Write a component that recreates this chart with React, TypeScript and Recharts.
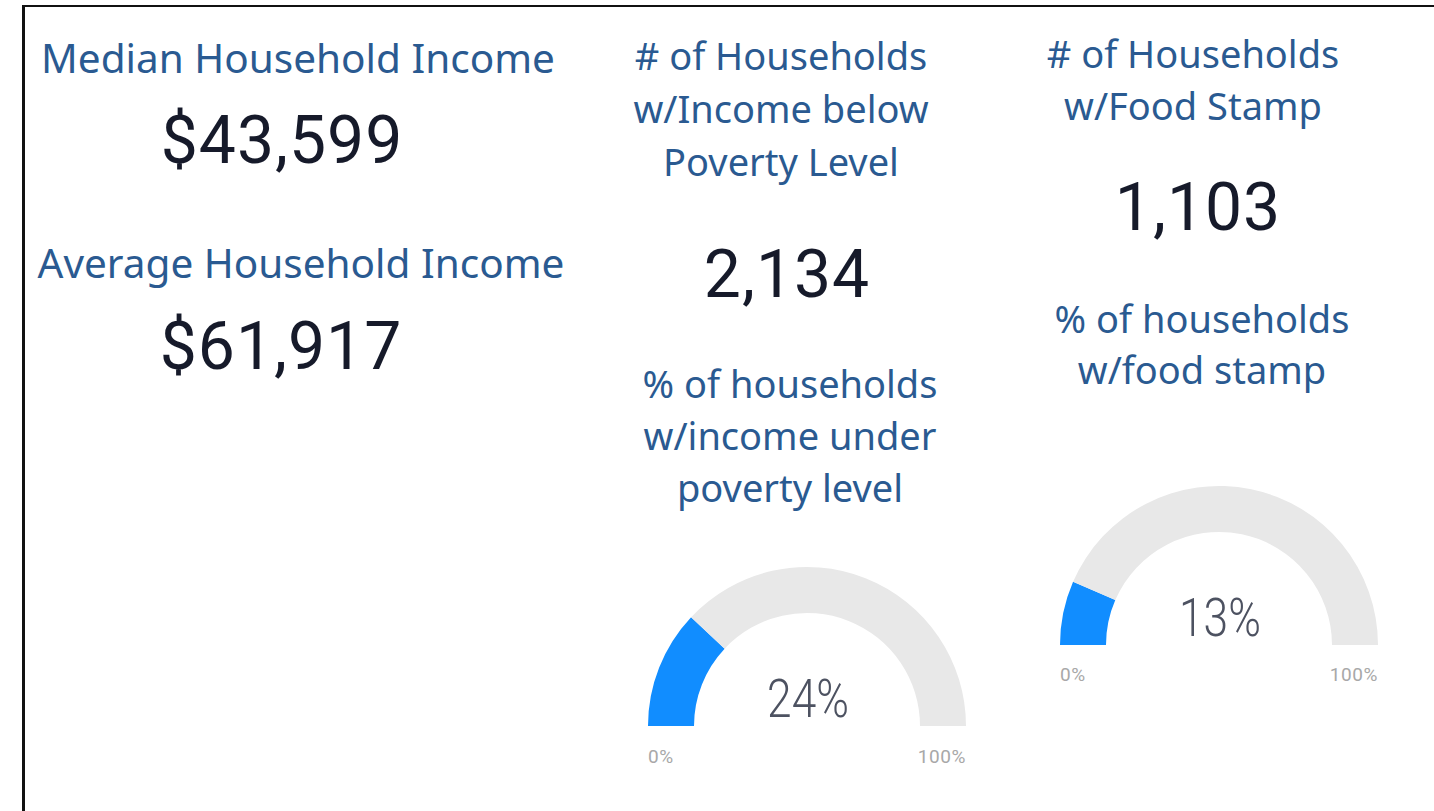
import { Cell, Pie, PieChart } from "recharts";

// card values
const incomeTitles = ["Median Household Income", "Average Household Income"];
const incomeValues = [43599, 61917];

const countTitles = [
  ["# of Households", "w/Income below", "Poverty Level"],
  ["# of Households", "w/Food Stamp"],
];
const countValues = [2134, 1103];

const gaugeTitles = [
  ["% of households", "w/income under", "poverty level"],
  ["% of households", "w/food stamp"],
];
const gaugeValues = [24, 13];
const gaugeMin = 0;
const gaugeMax = 100;

const TITLE = "#2a5a91";
const NUMBER = "#161a2a";
const TITLE_FONT = "'Segoe UI', 'Noto Sans', sans-serif";
const NUM_FONT = "Roboto, 'Noto Sans', sans-serif";

function money(v: number): string {
  return "$" + v.toLocaleString("en-US");
}

type GaugeProps = {
  value: number;
  cx: number; // page coords of the gauge centre
  cy: number;
};

function Gauge({ value, cx, cy }: GaugeProps) {
  const data = [
    { name: "value", v: value - gaugeMin },
    { name: "rest", v: gaugeMax - value },
  ];
  const w = 360;
  const h = 200;
  return (
    <div style={{ position: "absolute", left: cx - w / 2, top: cy - 180 }}>
      <PieChart
        width={w}
        height={h}
        margin={{ top: 0, right: 0, bottom: 0, left: 0 }}
      >
        <Pie
          data={data}
          dataKey="v"
          cx={w / 2}
          cy={180}
          startAngle={180}
          endAngle={0}
          innerRadius={113}
          outerRadius={159}
          stroke="none"
          isAnimationActive={false}
        >
          <Cell fill="#118dff" />
          <Cell fill="#e8e8e8" />
        </Pie>
      </PieChart>
    </div>
  );
}

export default function App() {
  const gauges = [
    { cx: 807, cy: 726, labelY: 763 },
    { cx: 1219, cy: 645, labelY: 681 },
  ];
  return (
    <div
      style={{
        position: "absolute",
        left: 0,
        top: 0,
        width: 1434,
        height: 811,
        overflow: "hidden",
        background: "#fff",
      }}
    >
      <div
        style={{
          position: "absolute",
          left: 22,
          top: 5,
          width: 1500,
          height: 900,
          borderLeft: "3px solid #111",
          borderTop: "2.5px solid #111",
        }}
      />
      {gauges.map((g, i) => (
        <Gauge key={i} value={gaugeValues[i]} cx={g.cx} cy={g.cy} />
      ))}
      <svg
        width={1434}
        height={811}
        style={{ position: "absolute", left: 0, top: 0, pointerEvents: "none" }}
      >
        {/* left column */}
        <g fontFamily={TITLE_FONT} fill={TITLE} fontSize={40.5} textAnchor="middle">
          <text x={298} y={73}>{incomeTitles[0]}</text>
          <text x={301} y={278}>{incomeTitles[1]}</text>
        </g>
        <g fontFamily={NUM_FONT} fill={NUMBER} fontSize={66} textAnchor="middle" letterSpacing={1}>
          <text x={282} y={163}>{money(incomeValues[0])}</text>
          <text x={281} y={369}>{money(incomeValues[1])}</text>
        </g>

        {/* middle + right columns */}
        <g fontFamily={TITLE_FONT} fill={TITLE} fontSize={38} textAnchor="middle">
          {countTitles[0].map((t, j) => (
            <text key={t} x={781} y={70 + j * 53}>{t}</text>
          ))}
          {gaugeTitles[0].map((t, j) => (
            <text key={t} x={790} y={398 + j * 52}>{t}</text>
          ))}
          {countTitles[1].map((t, j) => (
            <text key={t} x={1193} y={68 + j * 52}>{t}</text>
          ))}
          {gaugeTitles[1].map((t, j) => (
            <text key={t} x={1202} y={333 + j * 51}>{t}</text>
          ))}
        </g>
        <g fontFamily={NUM_FONT} fill={NUMBER} fontSize={66} textAnchor="middle" letterSpacing={1}>
          <text x={787} y={297}>{countValues[0].toLocaleString("en-US")}</text>
          <text x={1198} y={230}>{countValues[1].toLocaleString("en-US")}</text>
        </g>

        {/* gauge labels */}
        {gauges.map((g, i) => (
          <g key={i} fontFamily={NUM_FONT}>
            <text
              x={g.cx + 1}
              y={g.cy - 9}
              textAnchor="middle"
              fontSize={54}
              fontWeight={300}
              fill="#4d5261"
              transform={`translate(${g.cx + 1} 0) scale(0.82 1) translate(${-(g.cx + 1)} 0)`}
            >
              {gaugeValues[i]}%
            </text>
            <text x={g.cx - 159} y={g.labelY} fontSize={19} fill="#a8a8a8" letterSpacing={0.6}>
              {gaugeMin}%
            </text>
            <text
              x={g.cx + 159}
              y={g.labelY}
              fontSize={19}
              fill="#a8a8a8"
              textAnchor="end"
              letterSpacing={0.6}
            >
              {gaugeMax}%
            </text>
          </g>
        ))}
      </svg>
    </div>
  );
}
